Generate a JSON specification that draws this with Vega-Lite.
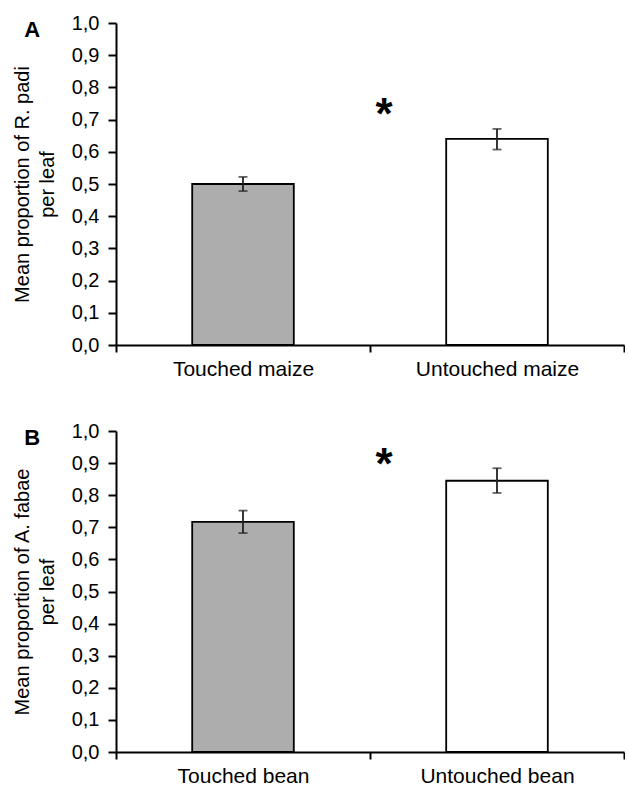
{
  "$schema": "https://vega.github.io/schema/vega-lite/v6.json",
  "padding": {"left": 12, "top": 13, "right": 0, "bottom": 5},
  "background": "white",
  "spacing": 42,
  "config": {
    "font": "Liberation Sans",
    "view": {"stroke": null},
    "axis": {
      "domainColor": "black", "domainWidth": 2, "tickColor": "black", "tickWidth": 2,
      "labelColor": "black", "titleColor": "black", "grid": false, "labelOverlap": false,
      "labelFont": "Liberation Sans", "titleFont": "Liberation Sans", "titleFontWeight": "normal"
    },
    "axisY": {"labelFontSize": 20, "tickSize": 8, "labelPadding": 9, "titleFontSize": 20, "titleLineHeight": 25, "titlePadding": 14, "titleAlign": "center"}
  },
  "datasets": {
    "a": [
      {"treatment": "Touched maize", "mean": 0.500, "lo": 0.478, "hi": 0.522, "touched": "yes"},
      {"treatment": "Untouched maize", "mean": 0.640, "lo": 0.607, "hi": 0.671, "touched": "no"}
    ],
    "b": [
      {"treatment": "Touched bean", "mean": 0.717, "lo": 0.682, "hi": 0.752, "touched": "yes"},
      {"treatment": "Untouched bean", "mean": 0.845, "lo": 0.807, "hi": 0.884, "touched": "no"}
    ],
    "starA": [{"treatment": "Untouched maize", "v": 0.74, "label": "*"}],
    "starB": [{"treatment": "Untouched bean", "v": 0.92, "label": "*"}]
  },
  "vconcat": [
    {
      "width": 508, "height": 322,
      "title": {"text": "A", "anchor": "start", "frame": "bounds", "fontSize": 22, "fontWeight": "bold", "font": "Liberation Sans", "color": "black", "dx": 12, "dy": 29, "offset": 0},
      "data": {"name": "a"},
      "encoding": {
        "x": {"field": "treatment", "type": "nominal", "sort": null,
          "scale": {"paddingInner": 0, "paddingOuter": 0},
          "axis": {"title": null, "labelAngle": 0, "labelFontSize": 21, "tickBand": "extent", "tickSize": 7, "labelPadding": 6}}
      },
      "layer": [
        {"mark": {"type": "bar", "width": {"band": 0.4}, "stroke": "black", "strokeWidth": 1.8},
         "encoding": {
           "y": {"field": "mean", "type": "quantitative", "scale": {"domain": [0, 1]},
             "axis": {"values": [0,0.1,0.2,0.3,0.4,0.5,0.6,0.7,0.8,0.9,1.0], "labelExpr": "replace(format(datum.value, '.1f'), '.', ',')", "title": ["Mean proportion of R. padi", "per leaf"]}},
           "fill": {"field": "touched", "type": "nominal", "scale": {"domain": ["yes", "no"], "range": ["#ADADAD", "#FFFFFF"]}, "legend": null}
         }},
        {"mark": {"type": "rule", "color": "#222", "strokeWidth": 1.8},
         "encoding": {"y": {"field": "lo", "type": "quantitative", "axis": {"values": [0,0.1,0.2,0.3,0.4,0.5,0.6,0.7,0.8,0.9,1.0], "labelExpr": "replace(format(datum.value, '.1f'), '.', ',')", "title": ["Mean proportion of R. padi", "per leaf"]}}, "y2": {"field": "hi"}}},
        {"mark": {"type": "tick", "color": "#222", "size": 9, "thickness": 1.8},
         "encoding": {"y": {"field": "lo", "type": "quantitative", "axis": {"values": [0,0.1,0.2,0.3,0.4,0.5,0.6,0.7,0.8,0.9,1.0], "labelExpr": "replace(format(datum.value, '.1f'), '.', ',')", "title": ["Mean proportion of R. padi", "per leaf"]}}}},
        {"mark": {"type": "tick", "color": "#222", "size": 9, "thickness": 1.8},
         "encoding": {"y": {"field": "hi", "type": "quantitative", "axis": {"values": [0,0.1,0.2,0.3,0.4,0.5,0.6,0.7,0.8,0.9,1.0], "labelExpr": "replace(format(datum.value, '.1f'), '.', ',')", "title": ["Mean proportion of R. padi", "per leaf"]}}}},
        {"data": {"name": "starA"},
         "mark": {"type": "text", "fontSize": 44, "fontWeight": "bold", "baseline": "middle", "dy": 9, "color": "black"},
         "encoding": {"x": {"field": "treatment", "type": "nominal", "bandPosition": 0.055}, "y": {"field": "v", "type": "quantitative", "axis": {"values": [0,0.1,0.2,0.3,0.4,0.5,0.6,0.7,0.8,0.9,1.0], "labelExpr": "replace(format(datum.value, '.1f'), '.', ',')", "title": ["Mean proportion of R. padi", "per leaf"]}}, "text": {"field": "label"}}}
      ]
    },
    {
      "width": 508, "height": 321,
      "title": {"text": "B", "anchor": "start", "frame": "bounds", "fontSize": 22, "fontWeight": "bold", "font": "Liberation Sans", "color": "black", "dx": 12, "dy": 29, "offset": 0},
      "data": {"name": "b"},
      "encoding": {
        "x": {"field": "treatment", "type": "nominal", "sort": null,
          "scale": {"paddingInner": 0, "paddingOuter": 0},
          "axis": {"title": null, "labelAngle": 0, "labelFontSize": 21, "tickBand": "extent", "tickSize": 7, "labelPadding": 6}}
      },
      "layer": [
        {"mark": {"type": "bar", "width": {"band": 0.4}, "stroke": "black", "strokeWidth": 1.8},
         "encoding": {
           "y": {"field": "mean", "type": "quantitative", "scale": {"domain": [0, 1]},
             "axis": {"values": [0,0.1,0.2,0.3,0.4,0.5,0.6,0.7,0.8,0.9,1.0], "labelExpr": "replace(format(datum.value, '.1f'), '.', ',')", "title": ["Mean proportion of A. fabae", "per leaf"]}},
           "fill": {"field": "touched", "type": "nominal", "scale": {"domain": ["yes", "no"], "range": ["#ADADAD", "#FFFFFF"]}, "legend": null}
         }},
        {"mark": {"type": "rule", "color": "#222", "strokeWidth": 1.8},
         "encoding": {"y": {"field": "lo", "type": "quantitative", "axis": {"values": [0,0.1,0.2,0.3,0.4,0.5,0.6,0.7,0.8,0.9,1.0], "labelExpr": "replace(format(datum.value, '.1f'), '.', ',')", "title": ["Mean proportion of A. fabae", "per leaf"]}}, "y2": {"field": "hi"}}},
        {"mark": {"type": "tick", "color": "#222", "size": 9, "thickness": 1.8},
         "encoding": {"y": {"field": "lo", "type": "quantitative", "axis": {"values": [0,0.1,0.2,0.3,0.4,0.5,0.6,0.7,0.8,0.9,1.0], "labelExpr": "replace(format(datum.value, '.1f'), '.', ',')", "title": ["Mean proportion of A. fabae", "per leaf"]}}}},
        {"mark": {"type": "tick", "color": "#222", "size": 9, "thickness": 1.8},
         "encoding": {"y": {"field": "hi", "type": "quantitative", "axis": {"values": [0,0.1,0.2,0.3,0.4,0.5,0.6,0.7,0.8,0.9,1.0], "labelExpr": "replace(format(datum.value, '.1f'), '.', ',')", "title": ["Mean proportion of A. fabae", "per leaf"]}}}},
        {"data": {"name": "starB"},
         "mark": {"type": "text", "fontSize": 44, "fontWeight": "bold", "baseline": "middle", "dy": 9, "color": "black"},
         "encoding": {"x": {"field": "treatment", "type": "nominal", "bandPosition": 0.055}, "y": {"field": "v", "type": "quantitative", "axis": {"values": [0,0.1,0.2,0.3,0.4,0.5,0.6,0.7,0.8,0.9,1.0], "labelExpr": "replace(format(datum.value, '.1f'), '.', ',')", "title": ["Mean proportion of A. fabae", "per leaf"]}}, "text": {"field": "label"}}}
      ]
    }
  ]
}
